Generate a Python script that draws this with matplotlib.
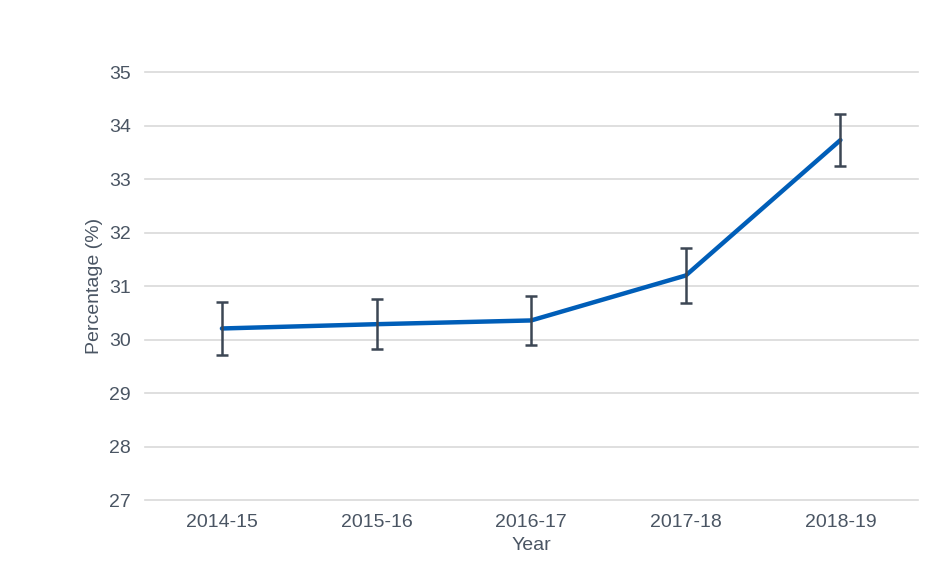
import matplotlib
matplotlib.use("Agg")
import matplotlib.pyplot as plt

plt.rcParams["font.family"] = ["Liberation Sans", "DejaVu Sans"]

years = ["2014-15", "2015-16", "2016-17", "2017-18", "2018-19"]
values = [30.21, 30.29, 30.36, 31.20, 33.73]
errors = [0.50, 0.47, 0.46, 0.52, 0.48]

text_col = "#4a5563"

fig = plt.figure(figsize=(9.27, 5.77), dpi=100)
ax = fig.add_axes([0.156, 0.133, 0.834, 0.742])

x = list(range(len(years)))
ax.plot(x, values, color="#005EB8", lw=3.2, zorder=3, solid_capstyle="round")
ax.errorbar(x, values, yerr=errors, fmt="none", ecolor="#3c4654",
            elinewidth=1.8, capsize=4, capthick=1.8, zorder=4)

ax.set_xlim(-0.5, 4.5)
ax.set_ylim(27, 35)
ax.set_yticks(range(27, 36))
ax.set_xticks(x)
ax.set_xticklabels(years)
ax.yaxis.grid(True, color="#d9d9d9", lw=1.2)
for gl in ax.get_ygridlines():
    gl.set_clip_on(False)
ax.set_axisbelow(True)
for s in ax.spines.values():
    s.set_visible(False)
ax.tick_params(length=0, labelsize=14, colors=text_col, pad=10)
ax.set_xlabel("Year", fontsize=14, color=text_col, labelpad=4)
ax.set_ylabel("Percentage (%)", fontsize=14, color=text_col, labelpad=4)

fig.savefig("out.png", dpi=100)
